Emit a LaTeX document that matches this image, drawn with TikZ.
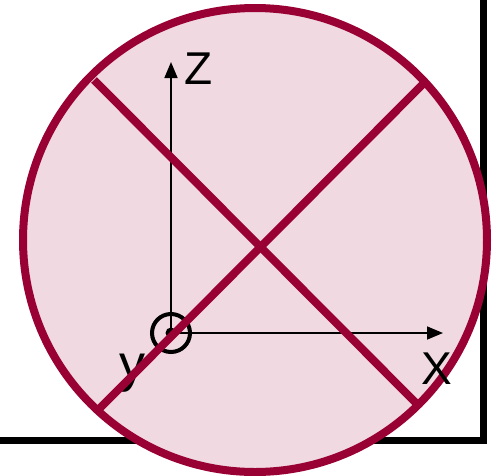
\documentclass[tikz,border=0pt]{standalone}
\usepackage{fontspec}
\setmainfont{Liberation Sans}
\usetikzlibrary{arrows.meta}
\definecolor{wine}{RGB}{153, 0, 51}

\begin{document}
\begin{tikzpicture}[
  x=1pt, y=-1pt,
  frameLINE/.style = {line width=7pt, color=black},
  ball/.style      = {circle, draw=wine, fill=wine!15!white,
                      line width=8pt, inner sep=0pt, minimum size=464pt},
  crossLINE/.style = {line width=8pt, color=wine},
  axis/.style      = {-{Triangle[length=16pt, width=13pt]}, line width=1.6pt, color=black},
  axLABEL/.style   = {font=\fontsize{46}{46}\selectfont, inner sep=0pt},
]
\useasboundingbox (0,0) rectangle (499,475);

%% Frame behind the ball
\coordinate (fL) at (0,440.5);
\coordinate (fC) at (483,440.5);
\coordinate (fT) at (483,0);
\draw[frameLINE] (fL) -- (fC) -- (fT);

%% Ball
\node[ball] (ball) at (255,240) {};

%% Axes
\coordinate (O)    at (171,333);
\coordinate (zEnd) at (171,62);
\coordinate (xEnd) at (443,333);
\draw[axis] (O) -- (zEnd);
\draw[axis] (O) -- (xEnd);
\draw[line width=4pt] (O) circle (19pt);
\fill (O) circle (5.5pt);

\node[axLABEL] (zLab) at (199,69)  {Z};
\node[axLABEL] (xLab) at (437,369) {X};
\node[axLABEL, font=\fontsize{52}{52}\selectfont] (yLab) at (132,373) {y};

%% Cross
\coordinate (c1a) at (94,80);
\coordinate (c1b) at (417,404);
\coordinate (c2a) at (100,408);
\coordinate (c2b) at (425,82);
\draw[crossLINE] (c1a) -- (c1b);
\draw[crossLINE] (c2a) -- (c2b);

\end{tikzpicture}
\end{document}
